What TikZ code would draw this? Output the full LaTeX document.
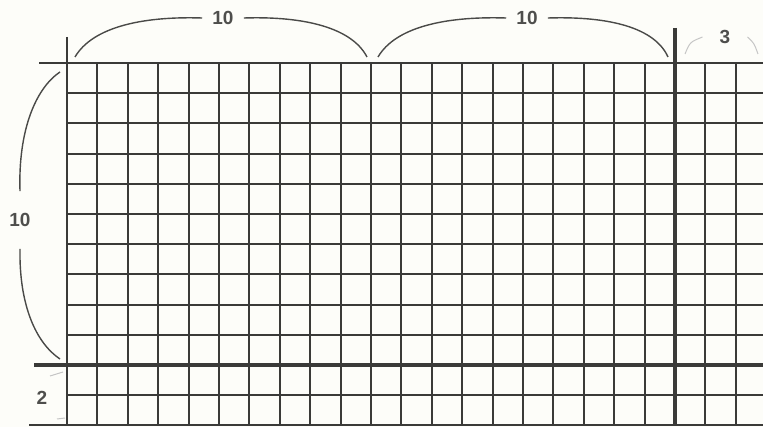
\documentclass[tikz,border=0pt]{standalone}
\usepackage{fontspec}
\setmainfont{Liberation Sans}
\begin{document}
\begin{tikzpicture}[x=1pt,y=-1pt,
  gridline/.style={draw=gridc,line width=1.9pt},
  boldline/.style={draw=gridc,line width=3.8pt},
  bracecurve/.style={draw=bracec,line width=1.4pt},
  faintcurve/.style={draw=gray!45,line width=1pt},
  lbl/.style={text=labelc,font=\fontsize{19}{21}\selectfont\bfseries,inner xsep=10pt,inner ysep=2pt}]
\definecolor{gridc}{HTML}{3A3A38}
\definecolor{bracec}{HTML}{4A4A48}
\definecolor{labelc}{HTML}{4E4E4C}
\definecolor{bgc}{HTML}{FDFDF9}
\useasboundingbox[fill=bgc] (0,0) rectangle (763,427);
\pgfmathsetmacro{\xo}{67}
\pgfmathsetmacro{\dx}{30.4}
\pgfmathsetmacro{\yo}{63}
\pgfmathsetmacro{\dy}{30.2}
% vertical lines
\foreach \i in {1,...,19,21,22} {
  \draw[gridline] ({\xo+\i*\dx},\yo) -- ({\xo+\i*\dx},{\yo+12*\dy});
}
\draw[gridline] (\xo,37) -- (\xo,{\yo+12*\dy});
% horizontal lines
\foreach \j in {1,...,9,11} {
  \draw[gridline] (\xo,{\yo+\j*\dy}) -- (763,{\yo+\j*\dy});
}
\draw[gridline] (39,\yo) -- (763,\yo);
\draw[gridline] (29,{\yo+12*\dy}) -- (763,{\yo+12*\dy});
\draw[boldline] (34,{\yo+10*\dy}) -- (763,{\yo+10*\dy});
\draw[boldline] ({\xo+20*\dx},28) -- ({\xo+20*\dx},{\yo+12*\dy});
% labels
\node[lbl] (t1) at (223,18) {10};
\node[lbl] (t2) at (527,18) {10};
\node[lbl,inner xsep=17pt] (t3) at (725,37) {3};
\node[lbl,inner xsep=2pt,inner ysep=22pt] (l1) at (20,220) {10};
\node[lbl] (l2) at (42,398) {2};
% brace ends
\coordinate (a1) at (75,57);
\coordinate (a2) at (367,57);
\coordinate (b1) at (378,57);
\coordinate (b2) at (668,57);
\coordinate (c1) at (685,54);
\coordinate (c2) at (758,54);
\coordinate (d1) at (60,72);
\coordinate (d2) at (60,359);
\coordinate (e1) at (50,376);
\coordinate (e2) at (63,372);
\coordinate (f1) at (57,419);
\coordinate (f2) at (65,418);
% braces
\draw[bracecurve] (a1) .. controls (92,28) and (140,16) .. (t1.west);
\draw[bracecurve] (t1.east) .. controls (305,16) and (352,28) .. (a2);
\draw[bracecurve] (b1) .. controls (395,28) and (443,16) .. (t2.west);
\draw[bracecurve] (t2.east) .. controls (610,16) and (655,28) .. (b2);
\draw[faintcurve] (c1) .. controls (690,42) .. (t3.west);
\draw[faintcurve] (t3.east) .. controls (754,43) .. (c2);
\draw[bracecurve] (d1) .. controls (36,88) and (18,130) .. (l1.north);
\draw[bracecurve] (l1.south) .. controls (19,305) and (36,343) .. (d2);
\draw[faintcurve] (e1) -- (e2);
\draw[faintcurve] (f1) -- (f2);
\end{tikzpicture}
\end{document}
